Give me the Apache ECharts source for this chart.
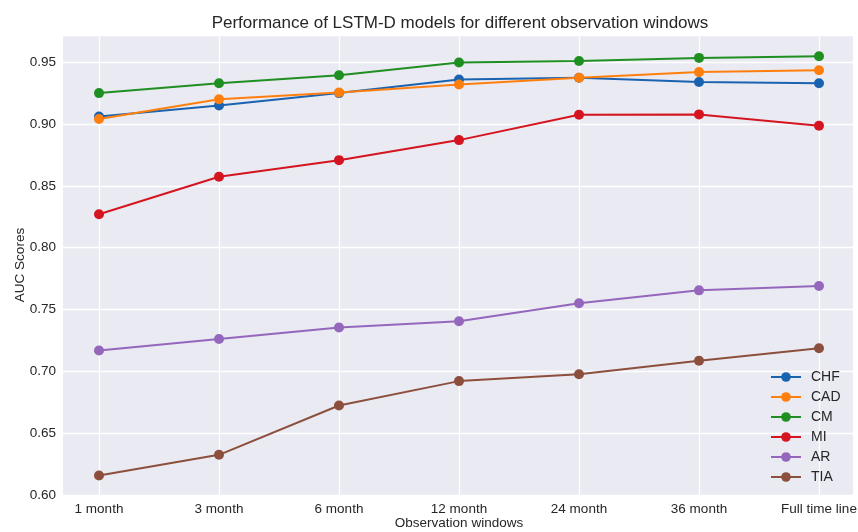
<!DOCTYPE html>
<html>
<head>
<meta charset="utf-8">
<script src="https://cdn.jsdelivr.net/npm/echarts@6/dist/echarts.min.js"></script>
<style>
  html, body { margin: 0; padding: 0; background: #ffffff; }
  #chart { width: 858px; height: 532px; }
</style>
</head>
<body>
<div id="chart"></div>
<script>
// Observation windows on the x axis
const windows = ['1 month', '3 month', '6 month', '12 month', '24 month', '36 month', 'Full time line'];

// AUC scores per target, one value per observation window
const chf = [0.906, 0.915, 0.925, 0.936, 0.9375, 0.934, 0.933];
const cad = [0.904, 0.920, 0.9255, 0.932, 0.9375, 0.942, 0.9435];
const cm  = [0.925, 0.933, 0.9395, 0.9497, 0.951, 0.9535, 0.9548];
const mi  = [0.827, 0.8574, 0.8708, 0.887, 0.9075, 0.9078, 0.8986];
const ar  = [0.7168, 0.7262, 0.7354, 0.7405, 0.7551, 0.7655, 0.769];
const tia = [0.6158, 0.6325, 0.6724, 0.6921, 0.6977, 0.7085, 0.7187];

const seriesNames = ['CHF', 'CAD', 'CM', 'MI', 'AR', 'TIA'];
const seriesValues = [chf, cad, cm, mi, ar, tia];
const seriesColors = ['#1a63b0', '#ff7f0e', '#1f8f22', '#d4151f', '#9467bd', '#8c4f3d'];

const yMin = 0.6, yMax = 0.972, yStep = 0.05;
const font = '"Liberation Sans", Arial, sans-serif';
const textColor = '#262626';

const chart = echarts.init(document.getElementById('chart'), null, { renderer: 'canvas' });

chart.setOption({
  animation: false,
  backgroundColor: '#ffffff',
  textStyle: { fontFamily: font },
  title: {
    text: 'Performance of LSTM-D models for different observation windows',
    left: 455,
    textAlign: 'center',
    top: 10,
    textStyle: { fontFamily: font, fontSize: 17, fontWeight: 'normal', color: textColor }
  },
  grid: [
    // full plotting panel: background and horizontal grid lines
    { left: 63, right: 5, top: 35, bottom: 37, show: true, backgroundColor: '#eaeaf2', borderWidth: 0, outerBoundsMode: 'none' },
    // inner panel where the category positions sit (with side margins)
    { left: 99, right: 39, top: 35, bottom: 37, outerBoundsMode: 'none' }
  ],
  xAxis: [
    { type: 'value', gridIndex: 0, min: 0, max: 1, show: false },
    {
      type: 'category', gridIndex: 1, data: windows, boundaryGap: false,
      axisLine: { show: false }, axisTick: { show: false },
      axisLabel: { color: textColor, fontSize: 13.5, margin: 7, fontFamily: font },
      splitLine: { show: true, lineStyle: { color: '#ffffff', width: 1.3 } },
      name: 'Observation windows', nameLocation: 'middle', nameGap: 21, nameMoveOverlap: false,
      nameTextStyle: { color: textColor, fontSize: 13.5, fontFamily: font }
    }
  ],
  yAxis: [
    {
      type: 'value', gridIndex: 0, min: yMin, max: yMax, interval: yStep,
      axisLine: { show: false }, axisTick: { show: false },
      axisLabel: {
        color: textColor, fontSize: 13.5, margin: 7, fontFamily: font,
        showMaxLabel: false,
        formatter: v => v.toFixed(2)
      },
      splitLine: { show: true, lineStyle: { color: '#ffffff', width: 1.3 } },
      name: 'AUC Scores', nameLocation: 'middle', nameRotate: 90, nameGap: 36, nameMoveOverlap: false,
      nameTextStyle: { color: textColor, fontSize: 13.5, fontFamily: font }
    },
    { type: 'value', gridIndex: 1, min: yMin, max: yMax, show: false, splitLine: { show: false } }
  ],
  legend: {
    orient: 'vertical',
    left: 765,
    top: 365,
    itemWidth: 30,
    itemHeight: 12,
    itemGap: 6,
    textStyle: { color: textColor, fontSize: 14, fontFamily: font, padding: [0, 0, 0, 5] },
    data: seriesNames
  },
  series: seriesNames.map((name, i) => ({
    name: name,
    type: 'line',
    xAxisIndex: 1,
    yAxisIndex: 1,
    data: seriesValues[i],
    symbol: 'circle',
    symbolSize: 10,
    showSymbol: true,
    lineStyle: { width: 2, color: seriesColors[i] },
    itemStyle: { color: seriesColors[i] },
    emphasis: { disabled: true }
  }))
});
</script>
</body>
</html>
